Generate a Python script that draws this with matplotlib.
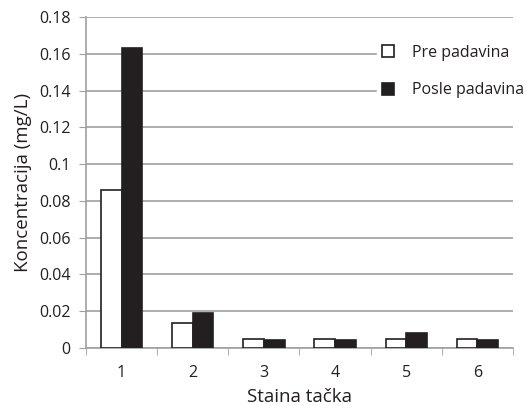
import matplotlib
matplotlib.use("Agg")
import matplotlib.pyplot as plt
import numpy as np

categories = ["1", "2", "3", "4", "5", "6"]
pre = [0.086, 0.0135, 0.005, 0.005, 0.005, 0.005]
posle = [0.163, 0.019, 0.0045, 0.0045, 0.008, 0.0045]
yticks = [0, 0.02, 0.04, 0.06, 0.08, 0.1, 0.12, 0.14, 0.16, 0.18]
ytick_labels = ["0", "0.02", "0.04", "0.06", "0.08", "0.1", "0.12", "0.14", "0.16", "0.18"]

plt.rcParams['font.family'] = ['Open Sans', 'DejaVu Sans']

fig = plt.figure(figsize=(5.27, 4.05), dpi=100)
ax = fig.add_axes([0.1632, 0.1407, 0.8102, 0.8173])

x = np.arange(len(categories))
w = 0.29
dark = "#231f20"
grid = "#a0a0a0"
ax.bar(x - w/2, pre, w, facecolor="white", edgecolor=dark, linewidth=1.2, label="Pre padavina", zorder=3)
ax.bar(x + w/2, posle, w, facecolor=dark, edgecolor=dark, linewidth=1.2, label="Posle padavina", zorder=3)

ax.set_xlim(-0.5, 5.5)
ax.set_ylim(0, 0.18)
ax.set_yticks(yticks)
ax.set_yticklabels(ytick_labels)
ax.set_xticks(x)
ax.set_xticklabels(categories)
ax.set_xticks(np.arange(-0.5, 6, 1), minor=True)
ax.tick_params(axis='x', which='major', length=0, pad=12, labelsize=11.5, colors=dark)
ax.tick_params(axis='x', which='minor', length=5, color=grid, direction='out')
ax.tick_params(axis='y', length=5, color=grid, direction='out', labelsize=11.5, labelcolor=dark, pad=6)
for s in ['top', 'right']:
    ax.spines[s].set_visible(False)
for s in ['left', 'bottom']:
    ax.spines[s].set_color(grid)
    ax.spines[s].set_linewidth(1.2)
ax.yaxis.grid(True, color=grid, linewidth=1.2, zorder=0)
ax.set_axisbelow(True)

ax.set_xlabel("Staina tačka", fontsize=13.5, color=dark, labelpad=5)
ax.set_ylabel("Koncentracija (mg/L)", fontsize=13.5, color=dark, labelpad=5)

leg = ax.legend(loc='upper right', bbox_to_anchor=(1.055, 0.955), frameon=True, fontsize=11.5,
                handlelength=0.75, handleheight=0.75, handletextpad=1.1, labelspacing=1.35,
                borderpad=0.3, fancybox=False, edgecolor='white', framealpha=1)
for t in leg.get_texts():
    t.set_color(dark)

fig.savefig("out.png", dpi=100)
